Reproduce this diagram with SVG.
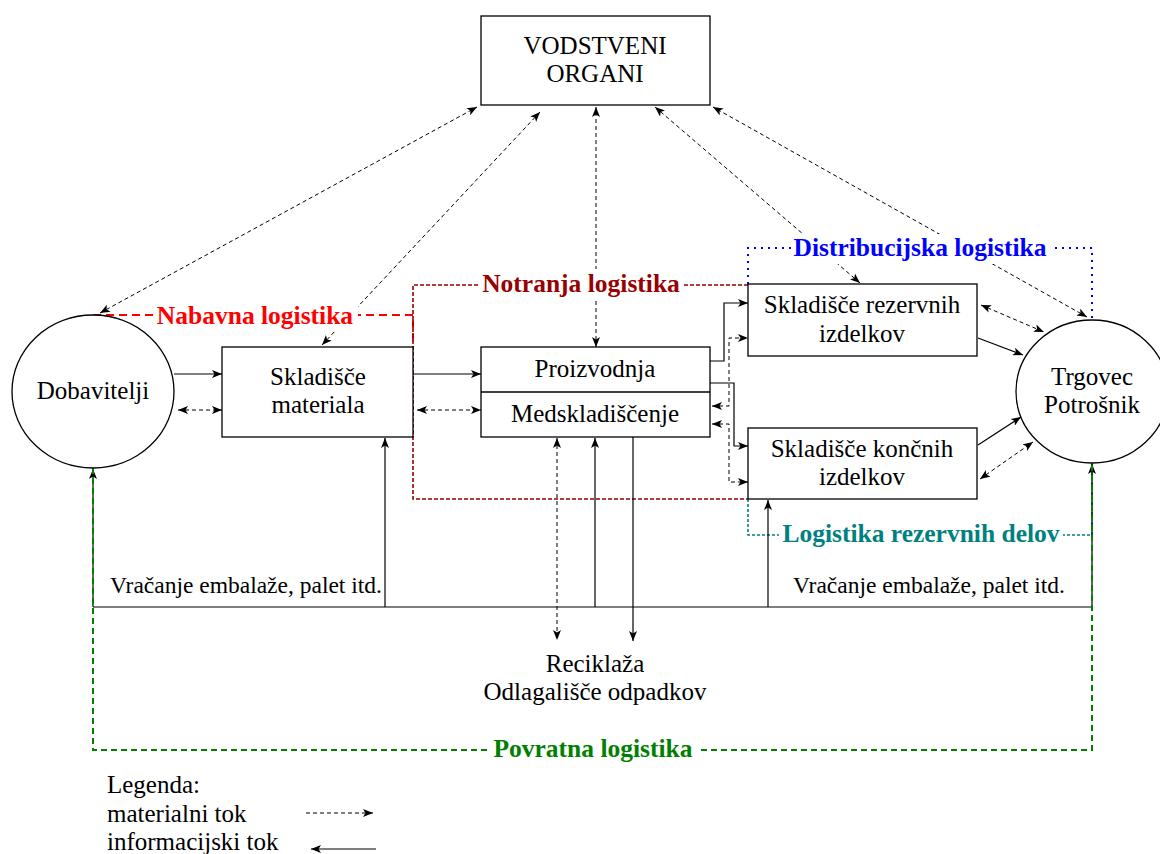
<svg xmlns="http://www.w3.org/2000/svg" width="1160" height="854" viewBox="0 0 1160 854">
  <style>
    .box { fill: #fff; stroke: #000; stroke-width: 1.3; }
    .t { font-family: "Liberation Serif", "Times New Roman", serif; font-size: 25px; fill: #000; }
    .ts { font-family: "Liberation Serif", "Times New Roman", serif; font-size: 23.5px; fill: #000; }
    .lbl { font-family: "Liberation Serif", "Times New Roman", serif; font-size: 25.5px; font-weight: bold; }
    .solid { fill: none; stroke: #000; stroke-width: 1.2; }
    .dash { fill: none; stroke: #000; stroke-width: 1; stroke-dasharray: 4 3; }
    .bg { fill: #fff; }
  </style>
  <defs>
    <marker id="ah" viewBox="0 0 10 8" refX="10" refY="4" markerWidth="10" markerHeight="8" markerUnits="userSpaceOnUse" orient="auto-start-reverse">
      <path d="M0,0 L10,4 L0,8 L2.5,4 Z" fill="#000"/>
    </marker>
  </defs>

  <rect width="1160" height="854" fill="#fff"/>

  <!-- logistics area outlines -->
  <g id="areas">
    <path d="M93,315 H413 V347" fill="none" stroke="#ff0000" stroke-width="2" stroke-dasharray="8 5"/>
    <path d="M748,285 H413 V499 H748" fill="none" stroke="#990000" stroke-width="1.6" stroke-dasharray="4 2"/>
    <path d="M748,284 V248 H1092 V320" fill="none" stroke="#0000ff" stroke-width="2" stroke-dasharray="2 5"/>
    <path d="M748,499 V535 H1092 V463" fill="none" stroke="#008080" stroke-width="1.6" stroke-dasharray="3 2"/>
  </g>

  <!-- connectors -->
  <g id="connectors">
    <!-- management links -->
    <line class="dash" x1="100" y1="313" x2="477" y2="107" marker-start="url(#ah)" marker-end="url(#ah)"/>
    <line class="dash" x1="322" y1="345" x2="540" y2="112" marker-start="url(#ah)" marker-end="url(#ah)"/>
    <line class="dash" x1="596" y1="347" x2="596" y2="107" marker-start="url(#ah)" marker-end="url(#ah)"/>
    <line class="dash" x1="860" y1="283" x2="655" y2="107" marker-start="url(#ah)" marker-end="url(#ah)"/>
    <line class="dash" x1="1087" y1="317" x2="713" y2="107" marker-start="url(#ah)" marker-end="url(#ah)"/>

    <!-- Dobavitelji / Skladišče materiala / Proizvodnja -->
    <line class="solid" x1="174" y1="374" x2="222" y2="374" marker-end="url(#ah)"/>
    <line class="dash" x1="178" y1="410" x2="222" y2="410" marker-start="url(#ah)" marker-end="url(#ah)"/>
    <line class="solid" x1="413" y1="374" x2="481" y2="374" marker-end="url(#ah)"/>
    <line class="dash" x1="417" y1="410" x2="481" y2="410" marker-start="url(#ah)" marker-end="url(#ah)"/>

    <!-- Proizvodnja to the two warehouses -->
    <path class="solid" d="M710,361 H724 V303 H748" marker-end="url(#ah)"/>
    <path class="solid" d="M710,383 H734 V446 H748" marker-end="url(#ah)"/>
    <path class="dash" d="M712,406 H729 V338 H748" marker-start="url(#ah)" marker-end="url(#ah)"/>
    <path class="dash" d="M712,424 H729 V482 H748" marker-start="url(#ah)" marker-end="url(#ah)"/>

    <!-- warehouses to Trgovec -->
    <line class="dash" x1="981" y1="305" x2="1044" y2="332" marker-start="url(#ah)" marker-end="url(#ah)"/>
    <line class="solid" x1="978" y1="338" x2="1023" y2="355" marker-end="url(#ah)"/>
    <line class="solid" x1="978" y1="445" x2="1021" y2="417" marker-end="url(#ah)"/>
    <line class="dash" x1="980" y1="479" x2="1033" y2="442" marker-start="url(#ah)" marker-end="url(#ah)"/>

    <!-- return flows -->
    <line class="solid" x1="93" y1="607" x2="1092" y2="607"/>
    <line class="solid" x1="93" y1="607" x2="93" y2="469" marker-end="url(#ah)"/>
    <line class="solid" x1="1092" y1="607" x2="1092" y2="464" marker-end="url(#ah)"/>
    <line class="solid" x1="385" y1="607" x2="385" y2="438" marker-end="url(#ah)"/>
    <line class="solid" x1="595" y1="607" x2="595" y2="438" marker-end="url(#ah)"/>
    <line class="solid" x1="768" y1="607" x2="768" y2="500" marker-end="url(#ah)"/>
    <line class="dash" x1="557" y1="438" x2="557" y2="640" marker-start="url(#ah)" marker-end="url(#ah)"/>
    <line class="solid" x1="633" y1="437" x2="633" y2="641" marker-end="url(#ah)"/>
  </g>

  <!-- reverse logistics outline -->
  <path d="M93,468 V750 H1092 V464" fill="none" stroke="#008000" stroke-width="2" stroke-dasharray="6 4"/>

  <!-- nodes -->
  <g id="vodstveni-organi">
    <rect class="box" x="481" y="16" width="229" height="89"/>
    <text class="t" x="595" y="54" text-anchor="middle">VODSTVENI</text>
    <text class="t" x="595" y="82" text-anchor="middle">ORGANI</text>
  </g>
  <g id="dobavitelji">
    <ellipse class="box" cx="93" cy="391.5" rx="81" ry="76.5"/>
    <text class="t" x="93" y="399" text-anchor="middle">Dobavitelji</text>
  </g>
  <g id="skladisce-materiala">
    <rect class="box" x="222" y="347" width="191" height="90"/>
    <text class="t" x="318" y="385" text-anchor="middle">Skladišče</text>
    <text class="t" x="318" y="413" text-anchor="middle">materiala</text>
  </g>
  <g id="proizvodnja">
    <rect class="box" x="481" y="347" width="229" height="90"/>
    <line x1="481" y1="392" x2="710" y2="392" stroke="#000" stroke-width="1.3"/>
    <text class="t" x="595" y="377" text-anchor="middle">Proizvodnja</text>
    <text class="t" x="595" y="422" text-anchor="middle">Medskladiščenje</text>
  </g>
  <g id="skladisce-rezervnih">
    <rect class="box" x="748" y="284" width="229" height="72"/>
    <text class="t" x="862" y="313" text-anchor="middle">Skladišče rezervnih</text>
    <text class="t" x="862" y="342" text-anchor="middle">izdelkov</text>
  </g>
  <g id="skladisce-koncnih">
    <rect class="box" x="748" y="428" width="229" height="71"/>
    <text class="t" x="862" y="457" text-anchor="middle">Skladišče končnih</text>
    <text class="t" x="862" y="485" text-anchor="middle">izdelkov</text>
  </g>
  <g id="trgovec">
    <ellipse class="box" cx="1092" cy="391.5" rx="76" ry="71.5"/>
    <text class="t" x="1092" y="385" text-anchor="middle">Trgovec</text>
    <text class="t" x="1092" y="413" text-anchor="middle">Potrošnik</text>
  </g>
  <g id="reciklaza">
    <text class="t" x="595" y="672" text-anchor="middle">Reciklaža</text>
    <text class="t" x="595" y="700" text-anchor="middle">Odlagališče odpadkov</text>
  </g>

  <!-- return flow captions -->
  <text class="ts" x="110" y="593">Vračanje embalaže, palet itd.</text>
  <text class="ts" x="793" y="593">Vračanje embalaže, palet itd.</text>

  <!-- logistics area labels -->
  <g id="area-labels">
    <rect class="bg" x="154" y="302" width="204" height="29"/>
    <text class="lbl" x="255" y="324" text-anchor="middle" fill="#ff0000">Nabavna logistika</text>
    <rect class="bg" x="480" y="269" width="204" height="32"/>
    <text class="lbl" x="581" y="292" text-anchor="middle" fill="#990000">Notranja logistika</text>
    <rect class="bg" x="791" y="234" width="259" height="30"/>
    <text class="lbl" x="920" y="256" text-anchor="middle" fill="#0000ff">Distribucijska logistika</text>
    <rect class="bg" x="779" y="521" width="284" height="28"/>
    <text class="lbl" x="921" y="542" text-anchor="middle" fill="#008080">Logistika rezervnih delov</text>
    <rect class="bg" x="490" y="737" width="207" height="28"/>
    <text class="lbl" x="593" y="757" text-anchor="middle" fill="#008000">Povratna logistika</text>
  </g>

  <!-- legend -->
  <g id="legend">
    <text class="t" x="107" y="793">Legenda:</text>
    <text class="t" x="107" y="822">materialni tok</text>
    <text class="t" x="107" y="850">informacijski tok</text>
    <line class="dash" x1="306" y1="813" x2="373" y2="813" marker-end="url(#ah)"/>
    <line class="solid" x1="376" y1="849" x2="311" y2="849" marker-end="url(#ah)"/>
  </g>
</svg>
